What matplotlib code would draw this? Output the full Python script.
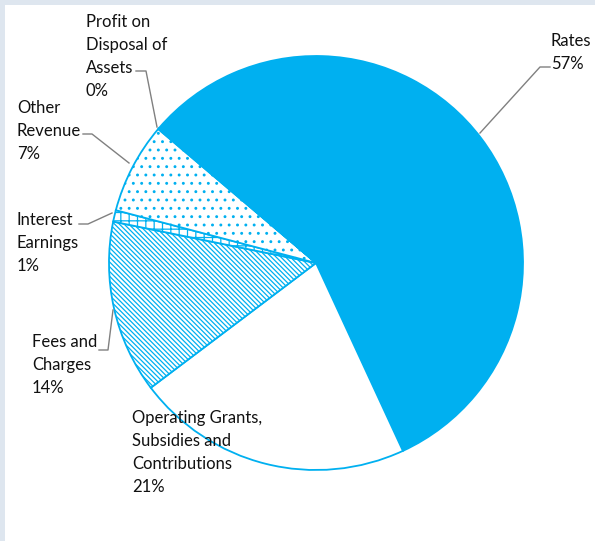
import matplotlib.pyplot as plt
from matplotlib.patches import Rectangle

# revenue breakdown (share of total, %)
categories = ["Rates", "Operating Grants,\nSubsidies and\nContributions", "Fees and\nCharges",
              "Interest\nEarnings", "Other\nRevenue", "Profit on\nDisposal of\nAssets"]
shares = [56.8, 21.6, 13.5, 0.9, 7.1, 0.1]
pct_labels = ["57%", "21%", "14%", "1%", "7%", "0%"]

blue = "#00B0F0"
W, H = 595, 541

plt.rcParams["hatch.linewidth"] = 0.9

fig = plt.figure(figsize=(W / 100, H / 100), dpi=100)
ax = fig.add_axes([0, 0, 1, 1])
ax.set_facecolor("#DEE6EF")

wedges, _ = ax.pie(shares, startangle=139.3, counterclock=False,
                   center=(316, 278), radius=207,
                   wedgeprops=dict(edgecolor=blue, linewidth=1.3))
styles = [(blue, None), ("white", None), ("white", "\\" * 7),
          ("white", "++"), ("white", ".."), ("white", None)]
for w, (fc, h) in zip(wedges, styles):
    w.set_facecolor(fc)
    if h:
        w.set_hatch(h)
    w.set_zorder(3)

ax.add_patch(Rectangle((5, 0), W - 5, H - 5, facecolor="white", edgecolor="none", zorder=1))
ax.set_xlim(0, W)
ax.set_ylim(0, H)
ax.set_aspect("equal")
ax.axis("off")
fig.patch.set_facecolor("#DEE6EF")

font = dict(family=["Lato", "DejaVu Sans"], fontsize=12, color="#111111",
            linespacing=1.55, va="top", ha="left", zorder=5)

def y(p):
    return H - p

# labels: (text, x, top y) in pixels
ax.text(551, y(33), categories[0] + "\n" + pct_labels[0], **font)
ax.text(132, y(410), categories[1] + "\n" + pct_labels[1], **font)
ax.text(32, y(334), categories[2] + "\n" + pct_labels[2], **font)
ax.text(17, y(212), categories[3] + "\n" + pct_labels[3], **font)
ax.text(17, y(100), categories[4] + "\n" + pct_labels[4], **font)
ax.text(86, y(14), categories[5] + "\n" + pct_labels[5], **font)

# leader lines
lc = dict(color="#808080", linewidth=1, zorder=4)
leaders = [
    [(550, 67), (540, 67), (480, 133)],
    [(99, 350), (108, 350), (113, 310)],
    [(79, 224), (88, 224), (112, 213)],
    [(83, 134), (92, 134), (129, 163)],
    [(136, 71), (146, 71), (157, 127)],
]
for pts in leaders:
    ax.plot([p[0] for p in pts], [y(p[1]) for p in pts], **lc)

plt.savefig("out.png", dpi=100)
